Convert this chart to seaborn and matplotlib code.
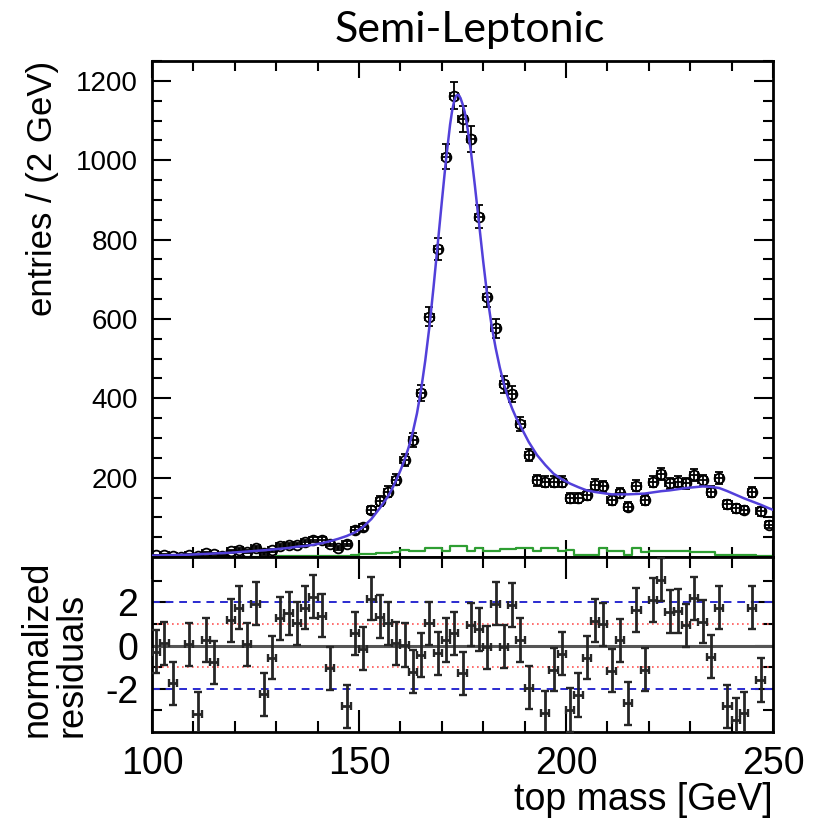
import numpy as np
import pandas as pd
import seaborn as sns
import matplotlib
matplotlib.use("Agg")
import matplotlib.pyplot as plt
from matplotlib.ticker import MultipleLocator, FixedLocator, NullFormatter

# 2 GeV bins, centres 101..249
BIN_CENTERS = list(range(101, 250, 2))

ENTRIES = [
    4, 5, 2, 1, 6, 2, 9, 7, 3, 15, 19, 14, 23, 9, 17, 27, 30, 31, 37, 44,
    43, 34, 22, 34, 67, 75, 119, 141, 165, 195, 245, 295, 413, 606, 777, 1009,
    1163, 1104, 1054, 858, 656, 576, 435, 412, 335, 257, 193, 190, 190, 190,
    148, 148, 157, 182, 178, 144, 161, 127, 180, 144, 190, 209, 186, 190, 186,
    207, 194, 165, 199, 133, 123, 119, 163, 115, 81,
]

RESIDUALS = [
    -0.28, 0.10, -1.74, np.nan, 0.06, -3.17, 0.26, -0.77, np.nan, 1.18,
    1.75, 0.06, 1.95, -2.25, -0.55, 1.26, 1.49, 1.03, 1.75, 2.26,
    1.38, -1.05, np.nan, -2.80, 0.57, -0.15, 2.18, 1.34, 1.03, 0.10,
    0.03, -1.20, -0.43, 1.03, -0.35, 0.26, 0.57, -1.28, 0.97, 0.75,
    -0.08, 1.95, -0.05, 1.88, 0.26, -1.94, np.nan, -3.10, -1.12, -0.37,
    -2.98, -2.29, -0.56, 1.15, 0.99, -1.16, 0.25, -2.67, 1.65, -1.11,
    2.11, 3.05, 1.57, 1.60, 0.95, 2.19, 1.10, -0.52, 1.75, -2.81,
    -3.44, -3.13, 1.76, -1.59, np.nan,
]

BACKGROUND = [
    1, 1, 1, 1, 1, 1, 1, 1, 1, 1, 1, 1, 1, 1, 1, 2, 2, 2, 2, 2,
    2, 3, 3, 3, 4, 8, 8, 10, 10, 12, 18, 15, 15, 22, 22, 15, 27, 27, 15, 22,
    15, 15, 20, 20, 23, 23, 15, 22, 22, 15, 17, 5, 5, 5, 22, 15, 15, 5, 24, 13,
    15, 15, 15, 15, 15, 12, 12, 12, 5, 5, 4, 4, 4, 3, 3,
]

FIT_MASS = [
    100, 101, 103, 105, 107, 109, 111, 113, 115, 117, 119, 121, 123, 125, 127,
    129, 131, 133, 135, 137, 139, 141, 143, 145, 147, 149, 151, 153, 155, 157,
    158, 159, 160, 161, 162, 163, 164, 165, 166, 167, 168, 169, 170, 171, 172,
    172.5, 173, 173.5, 174, 174.5, 175, 175.5, 176, 177, 178, 179, 180, 181,
    182, 183, 184, 185, 186, 187, 188, 189, 190, 191, 193, 195, 197, 199, 201,
    203, 205, 207, 209, 211, 213, 215, 217, 219, 221, 223, 225, 227, 229, 231,
    233, 235, 237, 239, 241, 243, 245, 247, 249, 250,
]
FIT_VALUE = [
    3.5, 4, 4.5, 5, 5.5, 6, 7, 8, 9, 10, 11, 12.5, 14, 15.5, 17,
    19, 21, 23, 26, 28, 31, 35, 40, 46, 53, 62, 76, 96, 123, 153,
    172, 194, 218, 245, 277, 315, 362, 422, 495, 580, 680, 787, 895, 1000, 1090,
    1125, 1150, 1163, 1165, 1157, 1142, 1123, 1095, 1025, 935, 840, 745, 657,
    585, 527, 478, 436, 402, 374, 350, 330, 310, 290, 257, 232, 210, 196, 185,
    176, 168, 164, 161, 158, 158, 158, 159, 160, 163, 166, 168, 171, 174, 176,
    178, 177, 174, 166, 157, 148, 140, 132, 123, 119,
]

BLUE = "#5240da"
GREEN = "#2e9e32"
FONT = ["Liberation Sans", "DejaVu Sans"]


def style_axis(ax):
    for side in ax.spines.values():
        side.set_linewidth(2.0)
        side.set_color("black")
    ax.tick_params(which="both", direction="in", top=True, right=True,
                   width=1.5, colors="black", labelcolor="black")


def main():
    sns.set_theme(style="ticks")
    plt.rcParams["font.family"] = FONT
    plt.rcParams["axes.unicode_minus"] = False
    plt.rcParams["text.color"] = "black"
    plt.rcParams["axes.labelcolor"] = "black"

    data = pd.DataFrame({"mass": BIN_CENTERS, "entries": ENTRIES,
                         "resid": RESIDUALS, "bkg": BACKGROUND})
    fit = pd.DataFrame({"mass": FIT_MASS, "value": FIT_VALUE})

    fig = plt.figure(figsize=(8.16, 8.18), dpi=100)
    ax_top = fig.add_axes([0.1863, 0.319, 0.761, 0.6064])
    ax_bot = fig.add_axes([0.1863, 0.1051, 0.761, 0.2139])

    # top panel: background histogram, data, fit
    sns.histplot(data=data, x="mass", weights="bkg", binwidth=2,
                 binrange=(100, 250), element="step", fill=False, color=GREEN,
                 linewidth=1.6, ax=ax_top)
    ax_top.errorbar(data["mass"], data["entries"], yerr=np.sqrt(data["entries"]),
                    xerr=1, fmt="o", mfc="none", mec="black", ms=7, mew=1.3,
                    ecolor="black", elinewidth=1.3, capsize=3, zorder=3)
    sns.lineplot(data=fit, x="mass", y="value", color=BLUE, linewidth=1.8,
                 ax=ax_top, zorder=4)

    ax_top.set_xlim(100, 250)
    ax_top.set_ylim(0, 1250)
    ax_top.yaxis.set_major_locator(FixedLocator([200, 400, 600, 800, 1000, 1200]))
    ax_top.yaxis.set_minor_locator(MultipleLocator(50))
    ax_top.xaxis.set_major_locator(MultipleLocator(50))
    ax_top.xaxis.set_minor_locator(MultipleLocator(10))
    ax_top.xaxis.set_major_formatter(NullFormatter())
    style_axis(ax_top)
    ax_top.tick_params(axis="y", which="major", length=14, labelsize=20, pad=10)
    ax_top.tick_params(axis="y", which="minor", length=7)
    ax_top.tick_params(axis="x", which="major", length=12)
    ax_top.tick_params(axis="x", which="minor", length=7)
    ax_top.set_xlabel("")
    ax_top.set_ylabel("entries / (2 GeV)", fontsize=25, loc="top")
    ax_top.yaxis.set_label_coords(-0.15, 1.0)

    # bottom panel: normalized residuals
    ax_bot.axhline(0, color="#555555", lw=2.2, zorder=1)
    for lvl in (1, -1):
        ax_bot.axhline(lvl, color="#ff5555", lw=1.2, ls=(0, (1, 2)), zorder=1)
    for lvl in (2, -2):
        ax_bot.axhline(lvl, color="#2a2ad0", lw=1.4, ls=(0, (4, 3)), zorder=1)
    ok = data.dropna(subset=["resid"])
    ax_bot.errorbar(ok["mass"], ok["resid"], yerr=1, xerr=1, fmt="none",
                    ecolor="#262626", elinewidth=2.0, capsize=3.2, capthick=1.7,
                    zorder=3)

    ax_bot.set_xlim(100, 250)
    ax_bot.set_ylim(-4.0, 4.1)
    ax_bot.yaxis.set_major_locator(FixedLocator([-2, 0, 2]))
    ax_bot.yaxis.set_minor_locator(FixedLocator([-3, -1, 1, 3]))
    ax_bot.xaxis.set_major_locator(MultipleLocator(50))
    ax_bot.xaxis.set_minor_locator(MultipleLocator(10))
    style_axis(ax_bot)
    ax_bot.tick_params(axis="y", which="major", length=13, labelsize=27, pad=10)
    ax_bot.tick_params(axis="y", which="minor", length=7)
    ax_bot.tick_params(axis="x", which="major", length=16, pad=10)
    ax_bot.tick_params(axis="x", which="minor", length=8)
    ax_bot.set_xticks([100, 150, 200, 250])
    ax_bot.set_xticklabels(["100", "150", "200", "250"], fontsize=27)
    ax_bot.set_xlabel("top mass [GeV]", fontsize=27, loc="right", labelpad=0)
    ax_bot.set_ylabel("")

    fig.text(55 / 816, 1 - 737 / 818, "normalized\nresiduals", rotation=90,
             ha="center", va="bottom", multialignment="left", fontsize=26,
             linespacing=1.0)

    fig.text(470 / 816, 1 - 30 / 818, "Semi-Leptonic", ha="center",
             va="center", fontsize=31, family=["Lato", "DejaVu Sans"])

    fig.savefig("out.png", dpi=100)
    plt.close(fig)


if __name__ == "__main__":
    main()
